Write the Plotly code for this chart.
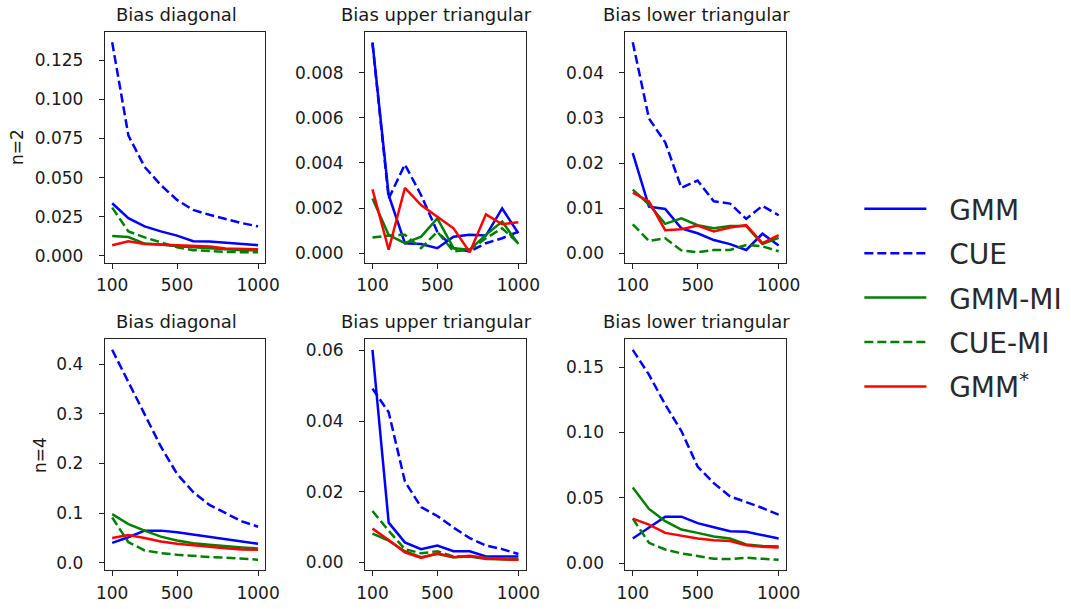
import plotly.graph_objects as go

sample_sizes = [100, 200, 300, 400, 500, 600, 700, 800, 900, 1000]
methods = ["GMM", "CUE", "GMM-MI", "CUE-MI", "GMM<sup>*</sup>"]

# n=2, Bias diagonal
n2_diag_gmm = [0.0336, 0.0241, 0.0188, 0.0156, 0.0129, 0.0093, 0.0091, 0.0084, 0.0076, 0.0068]
n2_diag_cue = [0.1364, 0.0769, 0.0568, 0.0452, 0.0357, 0.0293, 0.0262, 0.0234, 0.0209, 0.0188]
n2_diag_gmmmi = [0.0127, 0.0120, 0.0078, 0.0072, 0.0061, 0.0055, 0.0046, 0.0040, 0.0036, 0.0036]
n2_diag_cuemi = [0.0308, 0.0156, 0.0118, 0.0087, 0.0055, 0.0036, 0.0030, 0.0025, 0.0023, 0.0023]
n2_diag_gmmstar = [0.0068, 0.0093, 0.0076, 0.0072, 0.0068, 0.0063, 0.0059, 0.0046, 0.0042, 0.0042]

# n=2, Bias upper triangular
n2_up_gmm = [0.00935, 0.00257, 0.00044, 0.00040, 0.00022, 0.00073, 0.00081, 0.00078, 0.00198, 0.00088]
n2_up_cue = [0.00930, 0.00242, 0.00393, 0.00257, 0.00095, 0.00022, 0.00007, 0.00044, 0.00066, 0.00095]
n2_up_gmmmi = [0.00242, 0.00080, 0.00044, 0.00073, 0.00154, 0.00022, 0.00015, 0.00081, 0.00140, 0.00040]
n2_up_cuemi = [0.00069, 0.00078, 0.00081, 0.00022, 0.00095, 0.00007, 0.00015, 0.00066, 0.00110, 0.00044]
n2_up_gmmstar = [0.00283, 0.00015, 0.00289, 0.00213, 0.00161, 0.00110, 0.00004, 0.00172, 0.00128, 0.00137]

# n=2, Bias lower triangular
n2_low_gmm = [0.0222, 0.0103, 0.0098, 0.0055, 0.0044, 0.0029, 0.0020, 0.0007, 0.0043, 0.0017]
n2_low_cue = [0.0468, 0.0299, 0.0246, 0.0145, 0.0161, 0.0115, 0.0110, 0.0076, 0.0105, 0.0084]
n2_low_gmmmi = [0.0141, 0.0108, 0.0065, 0.0077, 0.0062, 0.0055, 0.0060, 0.0060, 0.0020, 0.0034]
n2_low_cuemi = [0.0064, 0.0027, 0.0033, 0.0006, 0.0002, 0.0007, 0.0007, 0.0018, 0.0015, 0.0004]
n2_low_gmmstar = [0.0134, 0.0115, 0.0051, 0.0053, 0.0061, 0.0048, 0.0057, 0.0062, 0.0022, 0.0040]

# n=4, Bias diagonal
n4_diag_gmm = [0.0399, 0.0512, 0.0645, 0.0645, 0.0611, 0.0565, 0.0525, 0.0472, 0.0439, 0.0379]
n4_diag_cue = [0.4286, 0.3635, 0.3003, 0.2339, 0.1787, 0.1422, 0.1163, 0.0990, 0.0831, 0.0724]
n4_diag_gmmmi = [0.0977, 0.0777, 0.0645, 0.0525, 0.0445, 0.0392, 0.0359, 0.0326, 0.0306, 0.0286]
n4_diag_cuemi = [0.0910, 0.0412, 0.0246, 0.0193, 0.0160, 0.0133, 0.0113, 0.0100, 0.0080, 0.0060]
n4_diag_gmmstar = [0.0498, 0.0558, 0.0498, 0.0425, 0.0379, 0.0346, 0.0312, 0.0292, 0.0266, 0.0259]

# n=4, Bias upper triangular
n4_up_gmm = [0.0602, 0.0112, 0.0056, 0.0037, 0.0047, 0.0031, 0.0031, 0.0016, 0.0016, 0.0016]
n4_up_cue = [0.0492, 0.0425, 0.0229, 0.0156, 0.0131, 0.0098, 0.0068, 0.0047, 0.0037, 0.0023]
n4_up_gmmmi = [0.0081, 0.0061, 0.0031, 0.0014, 0.0023, 0.0014, 0.0016, 0.0009, 0.0008, 0.0007]
n4_up_cuemi = [0.0145, 0.0089, 0.0037, 0.0025, 0.0031, 0.0016, 0.0016, 0.0012, 0.0009, 0.0009]
n4_up_gmmstar = [0.0095, 0.0063, 0.0028, 0.0012, 0.0025, 0.0014, 0.0018, 0.0011, 0.0008, 0.0007]

# n=4, Bias lower triangular
n4_low_gmm = [0.0190, 0.0271, 0.0357, 0.0357, 0.0307, 0.0276, 0.0246, 0.0241, 0.0215, 0.0190]
n4_low_cue = [0.1632, 0.1442, 0.1214, 0.1011, 0.0740, 0.0613, 0.0512, 0.0469, 0.0423, 0.0372]
n4_low_gmmmi = [0.0580, 0.0416, 0.0322, 0.0258, 0.0233, 0.0205, 0.0190, 0.0144, 0.0132, 0.0129]
n4_low_cuemi = [0.0342, 0.0157, 0.0106, 0.0076, 0.0056, 0.0035, 0.0033, 0.0043, 0.0035, 0.0028]
n4_low_gmmstar = [0.0342, 0.0296, 0.0233, 0.0213, 0.0190, 0.0177, 0.0170, 0.0139, 0.0127, 0.0122]

panel_titles = ["Bias diagonal", "Bias upper triangular", "Bias lower triangular"] * 2
row_labels = ["n=2", "n=4"]
x_tickvals = [100, 500, 1000]

panels = [
    [n2_diag_gmm, n2_diag_cue, n2_diag_gmmmi, n2_diag_cuemi, n2_diag_gmmstar],
    [n2_up_gmm, n2_up_cue, n2_up_gmmmi, n2_up_cuemi, n2_up_gmmstar],
    [n2_low_gmm, n2_low_cue, n2_low_gmmmi, n2_low_cuemi, n2_low_gmmstar],
    [n4_diag_gmm, n4_diag_cue, n4_diag_gmmmi, n4_diag_cuemi, n4_diag_gmmstar],
    [n4_up_gmm, n4_up_cue, n4_up_gmmmi, n4_up_cuemi, n4_up_gmmstar],
    [n4_low_gmm, n4_low_cue, n4_low_gmmmi, n4_low_cuemi, n4_low_gmmstar],
]
y_dticks = [0.025, 0.002, 0.01, 0.1, 0.02, 0.05]
y_formats = [".3f", ".3f", ".2f", ".1f", ".2f", ".2f"]

colors = ["#0000ff", "#0000ff", "#008000", "#008000", "#ff0000"]
dashes = ["solid", "9px,4px", "solid", "9px,4px", "solid"]

W, H = 1071, 609
col_px = [(98, 262), (364, 528), (630, 794)]
row_px = [(32, 264), (341, 573)]
row_label_px = [8, 31]

FONT = "DejaVu Sans"
TXT = "#1a1a1a"
fig = go.Figure()
annotations = []
layout_axes = {}

for p in range(6):
    r, c = divmod(p, 3)
    idx = p + 1
    xa = "x" if idx == 1 else f"x{idx}"
    ya = "y" if idx == 1 else f"y{idx}"
    for m in range(5):
        fig.add_trace(go.Scatter(
            x=sample_sizes, y=panels[p][m], mode="lines",
            name="\u00a0\u00a0" + methods[m],
            line=dict(color=colors[m], width=2.5, dash=dashes[m]),
            xaxis=xa, yaxis=ya, showlegend=(p == 0), legendgroup=methods[m],
        ))
    allv = [v for s in panels[p] for v in s]
    lo, hi = min(allv), max(allv)
    span = hi - lo
    x0, x1 = col_px[c]
    y0, y1 = row_px[r]
    common = dict(showline=True, linecolor="#222222", linewidth=1.2, mirror=True,
                  ticks="outside", ticklen=5, tickwidth=1.2, tickcolor="#222222",
                  showgrid=False, zeroline=False,
                  tickfont=dict(family=FONT, size=17, color=TXT))
    layout_axes["xaxis" + ("" if idx == 1 else str(idx))] = dict(
        domain=[x0 / W, x1 / W], anchor=ya, range=[55, 1045],
        tickvals=x_tickvals, ticktext=[str(v) for v in x_tickvals],
        ticklabelstandoff=2, **common)
    layout_axes["yaxis" + ("" if idx == 1 else str(idx))] = dict(
        domain=[1 - y1 / H, 1 - y0 / H], anchor=xa,
        range=[lo - 0.05 * span, hi + 0.05 * span],
        tick0=0, dtick=y_dticks[p], tickformat=y_formats[p],
        ticklabelstandoff=12, **common)
    annotations.append(dict(
        text=panel_titles[p], xref="paper", yref="paper",
        x=(x0 + x1) / 2 / W, y=1 - y0 / H, xanchor="center", yanchor="bottom",
        xshift=-9, yshift=5, showarrow=False, font=dict(family=FONT, size=18, color=TXT)))

for r in range(2):
    y0, y1 = row_px[r]
    annotations.append(dict(
        text=row_labels[r], xref="paper", yref="paper", x=row_label_px[r] / W,
        y=1 - (y0 + y1) / 2 / H, xanchor="center", yanchor="middle",
        textangle=-90, showarrow=False, font=dict(family=FONT, size=17, color=TXT)))

fig.update_layout(
    width=W, height=H, margin=dict(l=0, r=0, t=0, b=0),
    paper_bgcolor="white", plot_bgcolor="white",
    annotations=annotations,
    legend=dict(x=869 / W, y=1 - 185 / H, xanchor="left", yanchor="top",
                font=dict(family=FONT, size=28, color="#2a2a2a"),
                tracegroupgap=5, itemwidth=62, bgcolor="rgba(0,0,0,0)"),
    **layout_axes,
)

fig.write_html("out.html")
